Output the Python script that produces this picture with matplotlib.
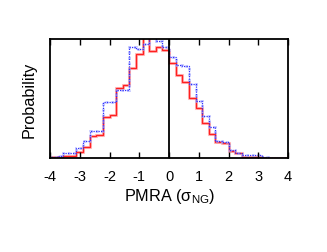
import numpy as np
import matplotlib
matplotlib.use("Agg")
from matplotlib import pyplot as plt

# bin edges of the histograms (36 bins over -4..4)
edges = np.linspace(-4, 4, 37)

# red solid histogram (left half then right half)
red_prob = [0.006, 0.01, 0.02, 0.02, 0.048, 0.09, 0.18, 0.19, 0.34,
            0.36, 0.585, 0.61, 0.76, 0.87, 1.08, 0.90, 0.935, 0.905,
            0.80, 0.695, 0.64, 0.50, 0.42, 0.29, 0.20, 0.13, 0.126,
            0.056, 0.042, 0.008, 0.008, 0.004, 0.0, 0.0, 0.0, 0.0]

# blue dotted histogram
blue_prob = [0.01, 0.02, 0.04, 0.04, 0.08, 0.145, 0.23, 0.23, 0.47,
             0.47, 0.57, 0.57, 0.93, 0.915, 0.96, 1.02, 0.985, 0.93,
             0.85, 0.78, 0.77, 0.62, 0.48, 0.35, 0.26, 0.14, 0.13,
             0.07, 0.045, 0.025, 0.025, 0.025, 0.005, 0.0, 0.0, 0.0]

xticks = [-4, -3, -2, -1, 0, 1, 2, 3, 4]

plt.rcParams['font.family'] = ['Liberation Sans', 'DejaVu Sans']
plt.rcParams['mathtext.fontset'] = 'custom'
plt.rcParams['mathtext.rm'] = 'Liberation Sans'


def main():
    fig = plt.figure(figsize=(3.27, 2.53), dpi=100)
    ax = fig.add_axes([0.153, 0.372, 0.728, 0.470])

    ax.stairs(red_prob, edges, color='#ff9999', lw=2.2, alpha=0.6)
    ax.stairs(red_prob, edges, color='#ff2020', lw=1.0)
    ax.stairs(blue_prob, edges, color='#aab0ff', lw=2.0, ls=(0, (1, 1)),
              alpha=0.7)
    ax.stairs(blue_prob, edges, color='#3030ff', lw=0.9, ls=(0, (1, 1)))
    ax.axvline(0, color='black', lw=1.3)

    ax.set_xlim(-4, 4)
    ax.set_ylim(0, 1)
    ax.set_xticks(xticks)
    ax.set_xticklabels([str(t) for t in xticks])
    ax.set_yticks([])
    ax.tick_params(axis='x', direction='in', top=True, length=4,
                   width=1.0, labelsize=10.5, pad=8)
    for s in ax.spines.values():
        s.set_linewidth(1.3)

    ax.set_xlabel('PMRA (σ$_{\\mathrm{NG}}$)', fontsize=11.7, labelpad=2)
    ax.set_ylabel('Probability', fontsize=11.7, labelpad=10)

    fig.savefig('out.png', dpi=100)


if __name__ == "__main__":
    main()
